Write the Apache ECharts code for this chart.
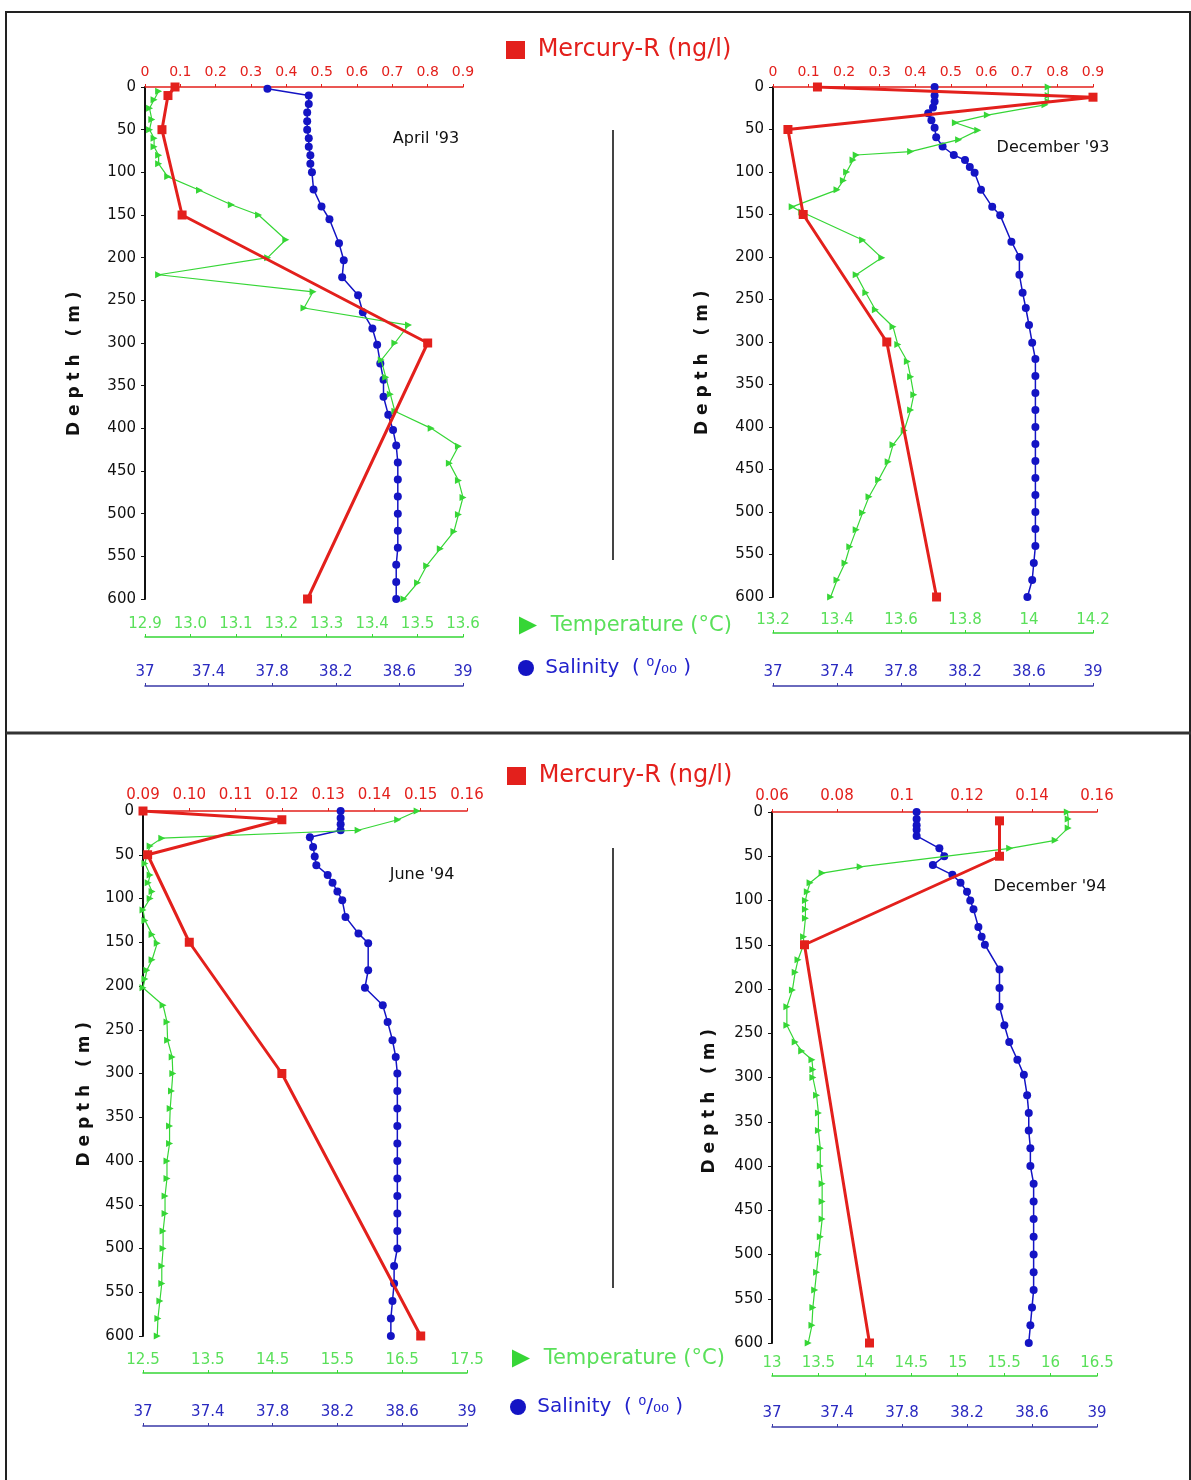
<!DOCTYPE html>
<html>
<head>
<meta charset="utf-8">
<script src="https://cdn.jsdelivr.net/npm/echarts@6/dist/echarts.min.js"></script>
<style>
  html, body { margin: 0; padding: 0; background: #fff; }
  #main { width: 1191px; height: 1480px; }
</style>
</head>
<body>
<div id="main"></div>
<script>
// axis ranges [min, max, interval]
var hgRange = [[0, 0.9, 0.1], [0, 0.9, 0.1], [0.09, 0.16, 0.01], [0.06, 0.16, 0.02]]
var tempRange = [[12.9, 13.6, 0.1], [13.2, 14.2, 0.2], [12.5, 17.5, 1], [13, 16.5, 0.5]]
var salRange = [37, 39, 0.4]
var depthRange = [0, 600, 50]
var panelNames = ["April '93", "December '93", "June '94", "December '94"]

// April '93
var apr93HgDepth = [0, 10, 50, 150, 300, 600]
var apr93Hg = [0.085, 0.065, 0.048, 0.105, 0.80, 0.46]
var apr93TDepth = [5, 15, 25, 38, 50, 60, 70, 80, 90, 105, 121, 138, 150, 179, 200, 220, 240, 259, 279, 300, 320, 340, 360, 380, 400, 421, 441, 461, 481, 501, 521, 541, 561, 581, 600]
var apr93T = [12.93, 12.92, 12.91, 12.915, 12.91, 12.92, 12.92, 12.93, 12.93, 12.95, 13.02, 13.09, 13.15, 13.21, 13.17, 12.93, 13.27, 13.25, 13.48, 13.45, 13.42, 13.43, 13.44, 13.45, 13.53, 13.59, 13.57, 13.59, 13.60, 13.59, 13.58, 13.55, 13.52, 13.50, 13.47]
var apr93SDepth = [2, 10, 20, 30, 40, 50, 60, 70, 80, 90, 100, 120, 140, 155, 183, 203, 223, 244, 264, 283, 302, 324, 343, 363, 384, 402, 420, 440, 460, 480, 500, 520, 540, 560, 580, 600]
var apr93S = [37.77, 38.03, 38.03, 38.02, 38.02, 38.02, 38.03, 38.03, 38.04, 38.04, 38.05, 38.06, 38.11, 38.16, 38.22, 38.25, 38.24, 38.34, 38.37, 38.43, 38.46, 38.48, 38.50, 38.50, 38.53, 38.56, 38.58, 38.59, 38.59, 38.59, 38.59, 38.59, 38.59, 38.58, 38.58, 38.58]

// December '93
var dec93HgDepth = [0, 12, 50, 150, 300, 600]
var dec93Hg = [0.125, 0.90, 0.042, 0.085, 0.32, 0.46]
var dec93TDepth = [0, 10, 17, 21, 33, 42, 51, 62, 76, 80, 86, 100, 110, 121, 141, 147, 180, 201, 221, 242, 262, 282, 303, 323, 341, 362, 380, 404, 421, 441, 462, 482, 501, 521, 541, 560, 580, 600]
var dec93T = [14.06, 14.06, 14.06, 14.05, 13.87, 13.77, 13.84, 13.78, 13.63, 13.46, 13.45, 13.43, 13.42, 13.40, 13.26, 13.29, 13.48, 13.54, 13.46, 13.49, 13.52, 13.575, 13.59, 13.62, 13.63, 13.64, 13.63, 13.61, 13.575, 13.56, 13.53, 13.50, 13.48, 13.46, 13.44, 13.425, 13.40, 13.38]
var dec93SDepth = [0, 10, 17, 24, 31, 39, 48, 59, 70, 80, 86, 94, 101, 121, 141, 151, 182, 200, 221, 242, 260, 280, 301, 320, 340, 360, 380, 400, 420, 440, 460, 480, 500, 520, 540, 560, 580, 600]
var dec93S = [38.01, 38.01, 38.01, 38.00, 37.97, 37.99, 38.01, 38.02, 38.06, 38.13, 38.20, 38.23, 38.26, 38.30, 38.37, 38.42, 38.49, 38.54, 38.54, 38.56, 38.58, 38.60, 38.62, 38.64, 38.64, 38.64, 38.64, 38.64, 38.64, 38.64, 38.64, 38.64, 38.64, 38.64, 38.64, 38.63, 38.62, 38.59]

// June '94
var jun94HgDepth = [0, 10, 50, 150, 300, 600]
var jun94Hg = [0.09, 0.12, 0.091, 0.100, 0.120, 0.150]
var jun94TDepth = [0, 10, 22, 31, 40, 50, 60, 73, 82, 92, 100, 113, 125, 141, 151, 170, 182, 192, 202, 222, 241, 262, 281, 300, 320, 340, 360, 380, 400, 420, 440, 460, 480, 500, 520, 540, 560, 580, 600]
var jun94T = [16.73, 16.43, 15.82, 12.79, 12.61, 12.56, 12.53, 12.61, 12.58, 12.64, 12.61, 12.50, 12.53, 12.64, 12.72, 12.64, 12.56, 12.53, 12.50, 12.81, 12.87, 12.88, 12.95, 12.96, 12.94, 12.92, 12.91, 12.91, 12.87, 12.87, 12.84, 12.84, 12.81, 12.81, 12.79, 12.79, 12.76, 12.73, 12.72]
var jun94SDepth = [0, 8, 15, 22, 30, 41, 52, 62, 73, 82, 92, 102, 121, 140, 151, 182, 202, 222, 241, 262, 281, 300, 320, 340, 360, 380, 400, 420, 440, 460, 480, 500, 520, 540, 560, 580, 600]
var jun94S = [38.22, 38.22, 38.22, 38.22, 38.03, 38.05, 38.06, 38.07, 38.14, 38.17, 38.20, 38.23, 38.25, 38.33, 38.39, 38.39, 38.37, 38.48, 38.51, 38.54, 38.56, 38.57, 38.57, 38.57, 38.57, 38.57, 38.57, 38.57, 38.57, 38.57, 38.57, 38.57, 38.55, 38.55, 38.54, 38.53, 38.53]

// December '94
var dec94HgDepth = [10, 50, 150, 600]
var dec94Hg = [0.13, 0.13, 0.07, 0.09]
var dec94TDepth = [0, 8, 18, 32, 41, 62, 69, 80, 90, 100, 110, 120, 141, 150, 167, 181, 201, 220, 241, 260, 270, 280, 291, 300, 320, 340, 360, 380, 400, 420, 440, 460, 480, 500, 520, 540, 560, 580, 600]
var dec94T = [16.18, 16.19, 16.19, 16.05, 15.56, 13.95, 13.54, 13.41, 13.38, 13.36, 13.36, 13.36, 13.34, 13.34, 13.28, 13.25, 13.22, 13.16, 13.16, 13.25, 13.32, 13.43, 13.44, 13.44, 13.48, 13.50, 13.50, 13.52, 13.52, 13.54, 13.54, 13.54, 13.52, 13.50, 13.48, 13.46, 13.44, 13.43, 13.39]
var dec94SDepth = [0, 8, 15, 20, 27, 41, 50, 60, 71, 80, 90, 100, 110, 130, 141, 150, 178, 199, 220, 241, 260, 280, 297, 320, 340, 360, 380, 400, 420, 440, 460, 480, 500, 520, 540, 560, 580, 600]
var dec94S = [37.89, 37.89, 37.89, 37.89, 37.89, 38.03, 38.06, 37.99, 38.11, 38.16, 38.20, 38.22, 38.24, 38.27, 38.29, 38.31, 38.40, 38.40, 38.40, 38.43, 38.46, 38.51, 38.55, 38.57, 38.58, 38.58, 38.59, 38.59, 38.61, 38.61, 38.61, 38.61, 38.61, 38.61, 38.61, 38.60, 38.59, 38.58]

var RED = '#e3201c'
var GREEN = '#36d636'
var GREEN_TXT = '#5ae05a'
var BLUE = '#1414c4'
var BLUE_AX = '#3a3aa8'
var FONT = 'DejaVu Sans'

var HG = 'Mercury-R (ng/l)'
var TEMP = 'Temperature (°C)'
var SAL = 'Salinity'

var panels = [
  { hg: [apr93HgDepth, apr93Hg], t: [apr93TDepth, apr93T], s: [apr93SDepth, apr93S] },
  { hg: [dec93HgDepth, dec93Hg], t: [dec93TDepth, dec93T], s: [dec93SDepth, dec93S] },
  { hg: [jun94HgDepth, jun94Hg], t: [jun94TDepth, jun94T], s: [jun94SDepth, jun94S] },
  { hg: [dec94HgDepth, dec94Hg], t: [dec94TDepth, dec94T], s: [dec94SDepth, dec94S] }
]

var grids = [
  { left: 145, top: 87, width: 318, height: 512 },
  { left: 773, top: 87, width: 320, height: 510 },
  { left: 143, top: 811, width: 324, height: 525 },
  { left: 772, top: 812, width: 325, height: 531 }
]
var tempOffset = [38, 36, 37, 33]
var salOffset = [87, 89, 90, 84]
var nameGaps = [62, 62, 50, 54]
var nameTail = [7, 7, 7, 8]
var hgFont = [14, 14, 15, 15]
var hgFmt = [null, null, function (v) { return v.toFixed(2) }, null]
var tFmt = [function (v) { return v.toFixed(1) }, null, null, null]

function zip (d, v) {
  return d.map(function (y, i) { return [v[i], y] })
}

var xAxes = []
var yAxes = []
var series = []
grids.forEach(function (g, i) {
  xAxes.push({
    type: 'value', gridIndex: i, position: 'top',
    min: hgRange[i][0], max: hgRange[i][1], interval: hgRange[i][2],
    axisLine: { show: true, onZero: false, lineStyle: { color: RED, width: 1.5 } },
    axisTick: { show: true, length: 3, lineStyle: { color: RED } },
    axisLabel: { color: RED, fontSize: hgFont[i], fontFamily: FONT, margin: 8, formatter: hgFmt[i] },
    splitLine: { show: false }
  })
  xAxes.push({
    type: 'value', gridIndex: i, position: 'bottom', offset: tempOffset[i],
    min: tempRange[i][0], max: tempRange[i][1], interval: tempRange[i][2],
    axisLine: { show: true, onZero: false, lineStyle: { color: GREEN, width: 1.5 } },
    axisTick: { show: true, inside: true, length: 3, lineStyle: { color: GREEN } },
    axisLabel: { inside: true, color: GREEN_TXT, fontSize: 15, fontFamily: FONT, margin: 5, formatter: tFmt[i] },
    splitLine: { show: false }
  })
  xAxes.push({
    type: 'value', gridIndex: i, position: 'bottom', offset: salOffset[i],
    min: salRange[0], max: salRange[1], interval: salRange[2],
    axisLine: { show: true, onZero: false, lineStyle: { color: BLUE_AX, width: 1.5 } },
    axisTick: { show: true, inside: true, length: 3, lineStyle: { color: BLUE_AX } },
    axisLabel: { inside: true, color: '#2a2ac0', fontSize: 15, fontFamily: FONT, margin: 6 },
    splitLine: { show: false }
  })
  yAxes.push({
    type: 'value', gridIndex: i, inverse: true,
    min: depthRange[0], max: depthRange[1], interval: depthRange[2],
    name: 'D e p t h   ( m )' + new Array(nameTail[i] + 1).join('\u00a0'),
    nameLocation: 'middle', nameRotate: 90, nameGap: nameGaps[i],
    nameTextStyle: { color: '#111', fontSize: 17, fontWeight: 'bold', fontFamily: FONT },
    axisLine: { show: true, onZero: false, lineStyle: { color: '#111', width: 2 } },
    axisTick: { show: true, length: 4, lineStyle: { color: '#111' } },
    axisLabel: { color: '#111', fontSize: 15, fontFamily: FONT, margin: 9 },
    splitLine: { show: false }
  })
  var p = panels[i]
  series.push({
    name: SAL, type: 'line', xAxisIndex: i * 3 + 2, yAxisIndex: i,
    data: zip(p.s[0], p.s[1]), symbol: 'circle', symbolSize: 8,
    itemStyle: { color: BLUE }, lineStyle: { color: BLUE, width: 1.5 }, z: 2
  })
  series.push({
    name: TEMP, type: 'line', xAxisIndex: i * 3 + 1, yAxisIndex: i,
    data: zip(p.t[0], p.t[1]), symbol: 'triangle', symbolSize: 7, symbolRotate: -90,
    itemStyle: { color: GREEN }, lineStyle: { color: GREEN, width: 1.2 }, z: 3
  })
  series.push({
    name: HG, type: 'line', xAxisIndex: i * 3, yAxisIndex: i,
    data: zip(p.hg[0], p.hg[1]), symbol: 'rect', symbolSize: 9,
    itemStyle: { color: RED }, lineStyle: { color: RED, width: 3 }, z: 4
  })
})

function legendItem (name, color, left, top, size, icon, w, h, fmt) {
  return {
    data: [{ name: name, textStyle: { color: color } }],
    left: left, top: top, icon: icon, itemWidth: w, itemHeight: h,
    selectedMode: false, formatter: fmt,
    textStyle: { fontSize: size, fontFamily: FONT }
  }
}
var triIcon = 'path://M0,0L10,5L0,10Z'
var salFmt = function () { return ' Salinity  ( \u2070/\u2080\u2080 )' }
var padFmt = function (n) { return ' ' + n }
var titleFont = '16px "DejaVu Sans"'

var option = {
  backgroundColor: '#fff',
  animation: false,
  grid: grids,
  xAxis: xAxes,
  yAxis: yAxes,
  series: series,
  legend: [
    legendItem(HG, RED, 501, 33, 24, 'rect', 19, 18, padFmt),
    legendItem(TEMP, GREEN_TXT, 514, 610, 21, triIcon, 22, 18, padFmt),
    legendItem(SAL, '#2222cc', 513, 653, 20, 'circle', 16, 16, salFmt),
    legendItem(HG, RED, 502, 759, 24, 'rect', 19, 18, padFmt),
    legendItem(TEMP, GREEN_TXT, 507, 1343, 21, triIcon, 22, 18, padFmt),
    legendItem(SAL, '#2222cc', 505, 1392, 20, 'circle', 16, 16, salFmt)
  ],
  graphic: [
    { type: 'rect', shape: { x: 6, y: 12, width: 1184, height: 1500 }, style: { fill: null, stroke: '#222', lineWidth: 2 }, silent: true },
    { type: 'line', shape: { x1: 6, y1: 733, x2: 1191, y2: 733 }, style: { stroke: '#333', lineWidth: 3 }, silent: true },
    { type: 'line', shape: { x1: 613, y1: 130, x2: 613, y2: 560 }, style: { stroke: '#444', lineWidth: 2 }, silent: true },
    { type: 'line', shape: { x1: 613, y1: 848, x2: 613, y2: 1288 }, style: { stroke: '#444', lineWidth: 2 }, silent: true },
    { type: 'text', x: 426, y: 139, style: { text: panelNames[0], fill: '#111', font: titleFont, textAlign: 'center', textVerticalAlign: 'middle' } },
    { type: 'text', x: 1053, y: 148, style: { text: panelNames[1], fill: '#111', font: titleFont, textAlign: 'center', textVerticalAlign: 'middle' } },
    { type: 'text', x: 422, y: 875, style: { text: panelNames[2], fill: '#111', font: titleFont, textAlign: 'center', textVerticalAlign: 'middle' } },
    { type: 'text', x: 1050, y: 887, style: { text: panelNames[3], fill: '#111', font: titleFont, textAlign: 'center', textVerticalAlign: 'middle' } }
  ]
}

var chart = echarts.init(document.getElementById('main'), null, { renderer: 'canvas' })
chart.setOption(option)
</script>
</body>
</html>
